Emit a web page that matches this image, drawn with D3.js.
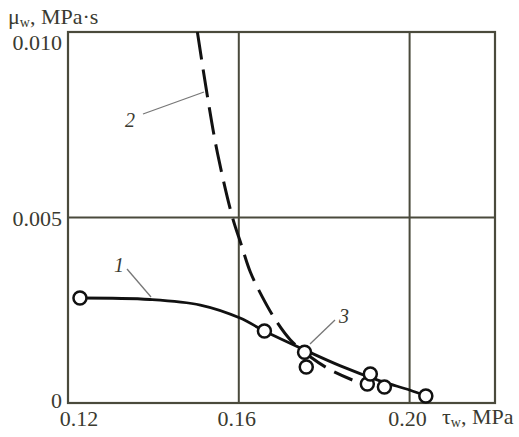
<!DOCTYPE html>
<html><head><meta charset="utf-8">
<script src="https://cdn.jsdelivr.net/npm/d3@7"></script>
<style>body{margin:0;background:#fff}svg{display:block}text{font-family:"Liberation Serif","Times New Roman",serif;fill:#3a3a30}</style>
</head><body>
<script>
const xTicks = [0.12, 0.16, 0.20];
const xTickLabels = ["0.12", "0.16", "0.20"];
const yTicks = [0, 0.005, 0.010];
const yTickLabels = ["0", "0.005", "0.010"];
const pointTau = [0.1228, 0.166, 0.1754, 0.1758, 0.1901, 0.1908, 0.1941, 0.2038];
const pointMu  = [0.00283, 0.00194, 0.00137, 0.00097, 0.00051, 0.00078, 0.00043, 0.00019];
const curve1Tau = [0.1228, 0.1392, 0.151, 0.1603, 0.166, 0.1754, 0.1838, 0.1932, 0.200, 0.2038];
const curve1Mu  = [0.00283, 0.00279, 0.00264, 0.00229, 0.00194, 0.00143, 0.00100, 0.00059, 0.00035, 0.00019];
const curve2Tau = [0.1503, 0.1526, 0.1550, 0.1585, 0.1606, 0.1627, 0.1655, 0.1686, 0.1721, 0.1768, 0.1815, 0.1866];
const curve2Mu  = [0.0100, 0.0083, 0.00674, 0.00501, 0.00426, 0.00353, 0.00286, 0.00224, 0.00170, 0.00124, 0.00089, 0.00062];

const W = 519, H = 437;
const svg = d3.select("body").append("svg").attr("width", W).attr("height", H);
const x = d3.scaleLinear().domain([0.12, 0.22]).range([68, 495]);
const y = d3.scaleLinear().domain([0, 0.010]).range([403, 32]);
const gridCol = "#4a4a3c";

// grid lines
svg.selectAll(".vg").data([0.16, 0.20]).enter().append("line")
  .attr("x1", d => x(d)).attr("x2", d => x(d)).attr("y1", y(0)).attr("y2", y(0.01))
  .attr("stroke", gridCol).attr("stroke-width", 2);
svg.selectAll(".hg").data([0.005]).enter().append("line")
  .attr("x1", x(0.12)).attr("x2", x(0.22)).attr("y1", d => y(d)).attr("y2", d => y(d))
  .attr("stroke", gridCol).attr("stroke-width", 2);
// frame
svg.append("rect").attr("x", x(0.12)).attr("y", y(0.01))
  .attr("width", x(0.22) - x(0.12)).attr("height", y(0) - y(0.01))
  .attr("fill", "none").attr("stroke", gridCol).attr("stroke-width", 2.2);

// tick labels
svg.selectAll(".xt").data(xTicks).enter().append("text")
  .attr("x", (d, i) => x(d) + (i === 0 ? 11 : -2)).attr("y", 426)
  .attr("text-anchor", "middle").attr("font-size", 22).text((d, i) => xTickLabels[i]);
const yOff = [5, 8.5, 18];
svg.selectAll(".yt").data(yTicks).enter().append("text")
  .attr("x", 62).attr("y", (d, i) => y(d) + yOff[i])
  .attr("text-anchor", "end").attr("font-size", 22).text((d, i) => yTickLabels[i]);

// axis titles
const xt = svg.append("text").attr("x", 442).attr("y", 424).attr("font-size", 22);
xt.append("tspan").text("τ");
xt.append("tspan").attr("font-size", 14).attr("dy", 3).text("w");
xt.append("tspan").attr("dy", -3).text(", MPa");
const yt = svg.append("text").attr("x", 8).attr("y", 24).attr("font-size", 22);
yt.append("tspan").text("μ");
yt.append("tspan").attr("font-size", 14).attr("dy", 3).text("w");
yt.append("tspan").attr("dy", -3).text(",  MPa·s");

// curves
const line = d3.line().x(d => x(d[0])).y(d => y(d[1])).curve(d3.curveCatmullRom.alpha(0.5));
svg.append("path").datum(curve1Tau.map((t, i) => [t, curve1Mu[i]]))
  .attr("d", line).attr("fill", "none").attr("stroke", "#111").attr("stroke-width", 2.8);
svg.append("clipPath").attr("id", "clip").append("rect")
  .attr("x", x(0.12)).attr("y", y(0.01)).attr("width", x(0.22) - x(0.12)).attr("height", y(0) - y(0.01));
svg.append("path").datum(curve2Tau.map((t, i) => [t, curve2Mu[i]]))
  .attr("d", line).attr("fill", "none").attr("stroke", "#111").attr("stroke-width", 3)
  .attr("stroke-dasharray", "28,10").attr("clip-path", "url(#clip)");

// points
svg.selectAll(".pt").data(pointTau.map((t, i) => [t, pointMu[i]])).enter().append("circle")
  .attr("cx", d => x(d[0])).attr("cy", d => y(d[1])).attr("r", 6.5)
  .attr("fill", "#fff").attr("stroke", "#111").attr("stroke-width", 2.5);

// annotations
const ann = [
  {label: "1", tx: 114, ty: 272, x1: 127, y1: 269, x2: 151, y2: 297},
  {label: "2", tx: 125, ty: 127, x1: 143, y1: 114, x2: 204, y2: 92},
  {label: "3", tx: 339, ty: 323, x1: 335, y1: 320, x2: 310, y2: 344}
];
ann.forEach(a => {
  svg.append("line").attr("x1", a.x1).attr("y1", a.y1).attr("x2", a.x2).attr("y2", a.y2)
    .attr("stroke", "#777").attr("stroke-width", 1.3);
  svg.append("text").attr("x", a.tx).attr("y", a.ty).attr("font-size", 20)
    .attr("font-style", "italic").text(a.label);
});
</script>
</body></html>
